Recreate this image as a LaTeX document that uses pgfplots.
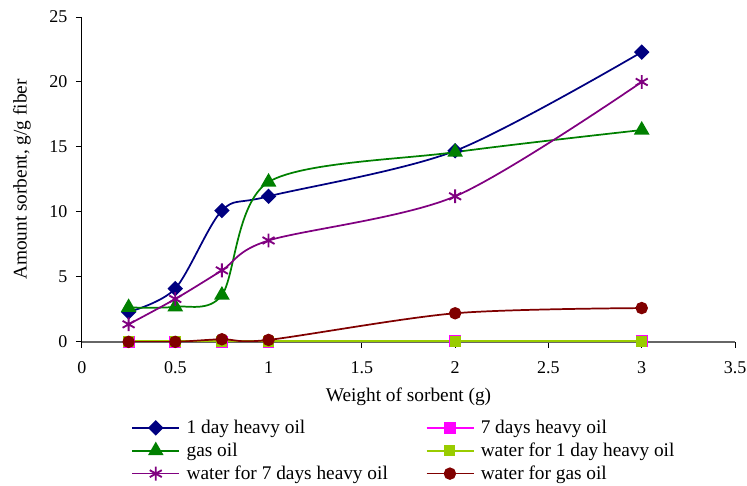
\documentclass[border=0pt]{standalone}
\usepackage{pgfplots}
\pgfplotsset{compat=1.18}
\usepackage{fontspec}
\setmainfont{Liberation Serif}
\definecolor{cnavy}{RGB}{0,0,128}
\definecolor{cgreen}{RGB}{0,128,0}
\definecolor{cpurple}{RGB}{128,0,128}
\definecolor{cmag}{RGB}{255,0,255}
\definecolor{cyg}{RGB}{153,204,0}
\definecolor{cdred}{RGB}{128,0,0}
\begin{document}
\begin{tikzpicture}
\begin{axis}[
  name=ax,
  scale only axis,
  width=490pt, height=243.75pt,
  xmin=0, xmax=3.5, ymin=0, ymax=25,
  axis x line=bottom, axis y line=left,
  axis line style={-},
  x axis line style={draw=gray!80!black, line width=1pt},
  y axis line style={draw=black, line width=0.7pt},
  xtick={0,0.5,...,3.5}, ytick={0,5,...,25},
  tick align=outside,
  major tick length=4.5pt,
  tick style={black, line width=0.7pt},
  /pgf/number format/assume math mode=true,
  ticklabel style={font=\fontsize{13.5}{15}\selectfont},
  xticklabel style={yshift=-7pt},
  yticklabel style={xshift=-3pt},
  xlabel={Weight of sorbent (g)},
  ylabel={Amount sorbent, g/g fiber},
  every axis x label/.style={at={(axis description cs:0.5,-0.169)}, anchor=center, font=\fontsize{14.5}{16}\selectfont},
  every axis y label/.style={at={(axis description cs:-0.0918,0.5)}, rotate=90, anchor=center, font=\fontsize{14.5}{16}\selectfont},
  legend columns=2,
  legend cell align=left,
  legend style={draw=none, fill=none, font=\fontsize{14.5}{16}\selectfont,
    at={(0.0756,-0.232)}, anchor=north west, inner sep=0pt,
    /tikz/every odd column/.append style={column sep=3pt},
    /tikz/every even column/.append style={column sep=26.4pt},
    row sep=1.5pt},
  legend image code/.code={
    \draw[mark repeat=2,mark phase=2,#1] plot coordinates {(0pt,0pt) (17.5pt,0pt) (35pt,0pt)};
  },
  every axis plot/.append style={line width=1.3pt, smooth, tension=0.5},
]
\addplot[cnavy, mark=square*, mark size=3.45pt, mark options={solid, rotate=45, fill=cnavy}] coordinates {
(0.25,2.3) (0.5,4.1) (0.75,10.1) (1,11.2) (2,14.7) (3,22.3)};
\addlegendentry{1 day heavy oil}
\addplot[cmag, mark=square*, mark size=3.8pt, mark options={fill=cmag}] coordinates {
(0.25,0) (0.5,0) (0.75,0) (1,0) (2,0.05) (3,0.05)};
\addlegendentry{7 days heavy oil}
\addplot[cgreen, mark=triangle*, mark size=5.5pt, mark options={fill=cgreen}] coordinates {
(0.25,2.65) (0.5,2.7) (0.75,3.6) (1,12.3) (2,14.6) (3,16.3)};
\addlegendentry{gas oil}
\addplot[cyg, mark=square*, mark size=3.5pt, mark options={fill=cyg}] coordinates {
(0.25,0.05) (0.5,0.05) (0.75,0.05) (1,0.05) (2,0.05) (3,0.05)};
\addlegendentry{water for 1 day heavy oil}
\addplot[cpurple, mark=asterisk, mark size=5.2pt, mark options={line width=1.4pt}] coordinates {
(0.25,1.35) (0.5,3.3) (0.75,5.5) (1,7.8) (2,11.2) (3,20.0)};
\addlegendentry{water for 7 days heavy oil}
\addplot[cdred, mark=*, mark size=4pt, mark options={fill=cdred}] coordinates {
(0.25,0) (0.5,0) (0.75,0.2) (1,0.15) (2,2.2) (3,2.6)};
\addlegendentry{water for gas oil}
\end{axis}
\pgfresetboundingbox
\path ([shift={(-61.5pt,-108pt)}]ax.south west) rectangle ([shift={(9pt,12.75pt)}]ax.north east);
\end{tikzpicture}
\end{document}
